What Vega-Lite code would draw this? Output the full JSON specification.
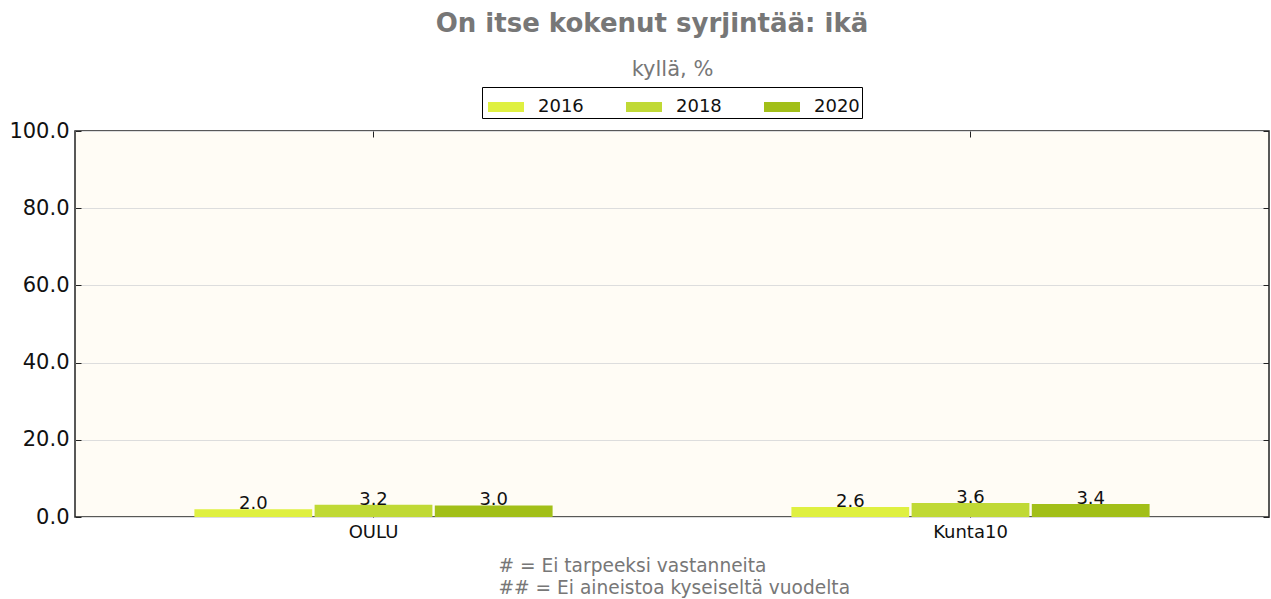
{
  "$schema": "https://vega.github.io/schema/vega-lite/v6.json",
  "width": 1194,
  "height": 386,
  "autosize": {"type": "none"},
  "padding": {"left": 75, "top": 131, "right": 2, "bottom": 82},
  "background": "white",
  "config": {
    "font": "DejaVu Sans",
    "view": {"fill": "#fffcf5", "stroke": "#222222", "strokeWidth": 1.5}
  },
  "title": {
    "text": "On itse kokenut syrjintää: ikä",
    "fontSize": 26,
    "fontWeight": "bold",
    "color": "#777777",
    "anchor": "middle",
    "dx": -20,
    "offset": 21,
    "font": "DejaVu Sans"
  },
  "data": {
    "values": [
      {"alue": "OULU", "vuosi": "2016", "arvo": 2.0},
      {"alue": "OULU", "vuosi": "2018", "arvo": 3.2},
      {"alue": "OULU", "vuosi": "2020", "arvo": 3.0},
      {"alue": "Kunta10", "vuosi": "2016", "arvo": 2.6},
      {"alue": "Kunta10", "vuosi": "2018", "arvo": 3.6},
      {"alue": "Kunta10", "vuosi": "2020", "arvo": 3.4}
    ]
  },
  "layer": [
    {
      "mark": {"type": "bar"},
      "encoding": {
        "x": {
          "field": "alue",
          "type": "nominal",
          "sort": ["OULU", "Kunta10"],
          "scale": {"paddingInner": 0.4, "paddingOuter": 0.2},
          "axis": {
            "orient": "bottom",
            "title": ["# = Ei tarpeeksi vastanneita", "## = Ei aineistoa kyseiseltä vuodelta"],
            "titleFont": "DejaVu Sans",
            "titleFontSize": 18.6,
            "titleFontWeight": "normal",
            "titleColor": "#777777",
            "titleAlign": "left",
            "titleAnchor": "start",
            "titleBaseline": "top",
            "titleX": 423,
            "titleY": 39,
            "titleLineHeight": 22,
            "labelAngle": 0,
            "labelFontSize": 18,
            "labelColor": "#111111",
            "labelPadding": 12,
            "domain": false,
            "ticks": true,
            "tickSize": -6,
            "tickColor": "#222222",
            "grid": false
          }
        },
        "xOffset": {
          "field": "vuosi",
          "type": "nominal",
          "scale": {"paddingInner": 0.02, "paddingOuter": 0}
        },
        "y": {
          "field": "arvo",
          "type": "quantitative",
          "scale": {"domain": [0, 100], "nice": false},
          "axis": {
            "orient": "left",
            "title": null,
            "values": [0, 20, 40, 60, 80, 100],
            "format": ".1f",
            "labelFontSize": 21,
            "labelColor": "#111111",
            "labelPadding": 12,
            "domain": false,
            "tickSize": -6,
            "tickColor": "#222222",
            "grid": true,
            "gridColor": "#dddddd",
            "gridWidth": 1
          }
        },
        "color": {
          "field": "vuosi",
          "type": "nominal",
          "scale": {"domain": ["2016", "2018", "2020"], "range": ["#dff040", "#c0d935", "#a2bf18"]},
          "legend": {
            "title": null,
            "orient": "none",
            "legendX": 407,
            "legendY": -44,
            "direction": "horizontal",
            "strokeColor": "#000000",
            "padding": 2,
            "labelFontSize": 18,
            "labelColor": "#111111",
            "labelFont": "DejaVu Sans",
            "symbolType": "M-1,-0.28H1V0.28H-1Z",
            "symbolSize": 1296,
            "symbolStrokeWidth": 0,
            "symbolOffset": 4,
            "labelOffset": 14,
            "columnPadding": 38
          }
        }
      }
    },
    {
      "mark": {"type": "text", "baseline": "bottom", "dy": 4, "fontSize": 18, "color": "#111111", "font": "DejaVu Sans"},
      "encoding": {
        "x": {"field": "alue", "type": "nominal", "sort": ["OULU", "Kunta10"], "axis": null},
        "xOffset": {"field": "vuosi", "type": "nominal"},
        "y": {"field": "arvo", "type": "quantitative", "axis": null},
        "text": {"field": "arvo", "type": "quantitative", "format": ".1f"}
      }
    },
    {
      "mark": {"type": "rule", "opacity": 0},
      "encoding": {
        "x": {
          "field": "alue",
          "type": "nominal",
          "sort": ["OULU", "Kunta10"],
          "axis": {
            "orient": "top",
            "title": "kyllä, %",
            "titleFont": "DejaVu Sans",
            "titleFontSize": 21,
            "titleFontWeight": "normal",
            "titleColor": "#777777",
            "titleAnchor": "middle",
            "titleBaseline": "alphabetic",
            "titleY": -56,
            "labels": false,
            "domain": false,
            "tickSize": -6,
            "tickColor": "#222222",
            "grid": false
          }
        },
        "y": {
          "field": "arvo",
          "type": "quantitative",
          "axis": {"orient": "right", "title": null, "labels": false, "domain": false, "values": [0, 20, 40, 60, 80, 100], "tickSize": -6, "tickColor": "#222222", "grid": false}
        }
      }
    }
  ],
  "resolve": {"axis": {"x": "independent", "y": "independent"}}
}
